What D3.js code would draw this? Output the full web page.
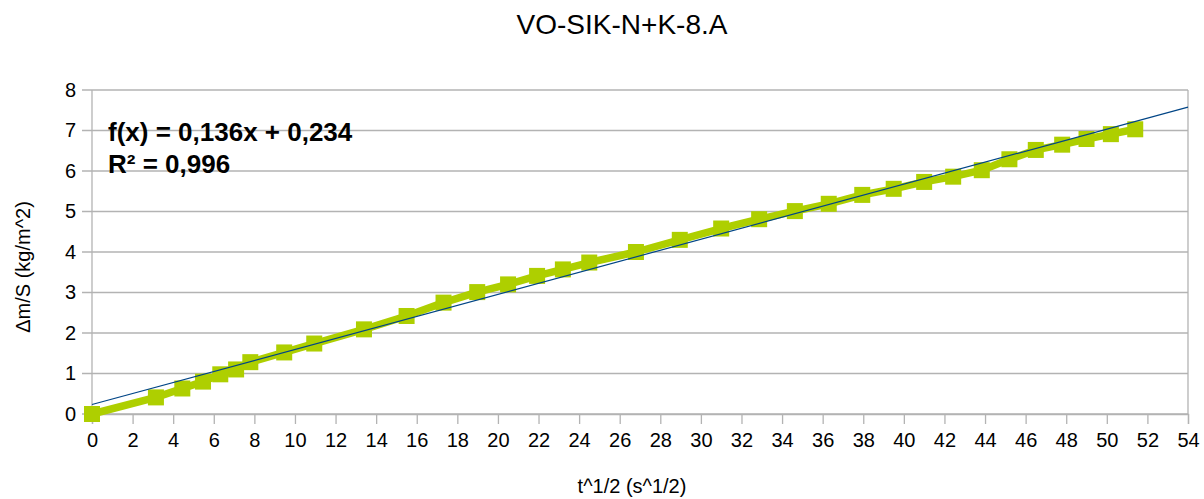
<!DOCTYPE html>
<html>
<head>
<meta charset="utf-8">
<script src="https://cdn.jsdelivr.net/npm/d3@7"></script>
<style>
  html, body { margin: 0; padding: 0; background: #ffffff; }
  svg { display: block; font-family: "Liberation Sans", Arial, sans-serif; }
</style>
</head>
<body>
<svg id="chart" width="1204" height="499"></svg>
<script>
// Measured series: square root of time vs. mass change per area
const sqrtTime = [0, 3.15, 4.45, 5.47, 6.32, 7.1, 7.8, 9.47, 10.95, 13.4, 15.5, 17.32, 18.98, 20.5,
  21.93, 23.2, 24.5, 26.8, 28.96, 31.0, 32.87, 34.63, 36.3, 37.95, 39.5, 41.0, 42.43, 43.84,
  45.2, 46.5, 47.8, 49.0, 50.2, 51.4];
const massPerArea = [0, 0.41, 0.63, 0.8, 0.98, 1.1, 1.28, 1.52, 1.74, 2.09, 2.42, 2.75, 3.01, 3.2,
  3.41, 3.57, 3.74, 4.0, 4.3, 4.58, 4.81, 5.01, 5.19, 5.41, 5.56, 5.73, 5.86, 6.02,
  6.29, 6.52, 6.65, 6.79, 6.91, 7.03];

// Linear trend line coefficients
const slope = 0.136;
const intercept = 0.234;
const rSquared = 0.996;

const xTicks = d3.range(0, 55, 2);
const yTicks = d3.range(0, 9, 1);

const titleText = "VO-SIK-N+K-8.A";
const xLabel = "t^1/2 (s^1/2)";
const yLabel = "\u0394m/S (kg/m^2)";

const fmt = v => String(v).replace(".", ",");

const svg = d3.select("#chart");
const plot = { left: 92, right: 1188, top: 90, bottom: 414 };

const x = d3.scaleLinear().domain([0, 54]).range([plot.left, plot.right]);
const y = d3.scaleLinear().domain([0, 8]).range([plot.bottom, plot.top]);

const gridColor = "#b3b3b3";
const tickFont = 20;

// horizontal gridlines
svg.append("g")
  .selectAll("line")
  .data(yTicks)
  .join("line")
  .attr("x1", plot.left - 10).attr("x2", plot.right)
  .attr("y1", d => y(d)).attr("y2", d => y(d))
  .attr("stroke", gridColor).attr("stroke-width", 1.3);

// plot frame sides
svg.append("line").attr("x1", plot.left).attr("x2", plot.left).attr("y1", plot.top).attr("y2", plot.bottom)
  .attr("stroke", gridColor).attr("stroke-width", 1.3);
svg.append("line").attr("x1", plot.right).attr("x2", plot.right).attr("y1", plot.top).attr("y2", plot.bottom)
  .attr("stroke", gridColor).attr("stroke-width", 1.3);

// x axis
const xAxis = svg.append("g")
  .attr("transform", `translate(0,${plot.bottom})`)
  .call(d3.axisBottom(x).tickValues(xTicks).tickSize(10).tickPadding(9).tickFormat(d => d));
xAxis.select(".domain").attr("stroke", gridColor).attr("stroke-width", 1.3);
xAxis.selectAll(".tick line").attr("stroke", gridColor).attr("stroke-width", 1.3);
xAxis.selectAll(".tick text").attr("font-size", tickFont).attr("fill", "#000")
  .attr("font-family", "Liberation Sans, Arial, sans-serif");

// y axis labels
const yAxis = svg.append("g")
  .attr("transform", `translate(${plot.left},0)`)
  .call(d3.axisLeft(y).tickValues(yTicks).tickSize(0).tickPadding(16).tickFormat(d => d));
yAxis.select(".domain").remove();
yAxis.selectAll(".tick text").attr("font-size", tickFont).attr("fill", "#000")
  .attr("font-family", "Liberation Sans, Arial, sans-serif");

const pts = sqrtTime.map((t, i) => [t, massPerArea[i]]);

// series line
svg.append("path")
  .datum(pts)
  .attr("fill", "none")
  .attr("stroke", "#aecf00")
  .attr("stroke-width", 7.5)
  .attr("stroke-linejoin", "round")
  .attr("d", d3.line().x(d => x(d[0])).y(d => y(d[1])));

// square markers
const m = 16;
svg.append("g")
  .selectAll("rect")
  .data(pts)
  .join("rect")
  .attr("x", d => x(d[0]) - m / 2)
  .attr("y", d => y(d[1]) - m / 2)
  .attr("width", m).attr("height", m)
  .attr("fill", "#aecf00");

// linear trend line
svg.append("line")
  .attr("x1", x(0)).attr("y1", y(intercept))
  .attr("x2", x(54)).attr("y2", y(slope * 54 + intercept))
  .attr("stroke", "#004586").attr("stroke-width", 1.2);

// equation
svg.append("text").attr("x", 108).attr("y", 141)
  .attr("font-size", 26).attr("font-weight", "bold").attr("fill", "#000")
  .text(`f(x) = ${fmt(slope)}x + ${fmt(intercept)}`);
svg.append("text").attr("x", 108).attr("y", 173)
  .attr("font-size", 26).attr("font-weight", "bold").attr("fill", "#000")
  .text(`R\u00b2 = ${fmt(rSquared)}`);

// title
svg.append("text").attr("x", 622).attr("y", 34).attr("text-anchor", "middle")
  .attr("font-size", 28).attr("fill", "#000").text(titleText);

// axis titles
svg.append("text").attr("x", 632).attr("y", 493).attr("text-anchor", "middle")
  .attr("font-size", 20).attr("fill", "#000").text(xLabel);
svg.append("text")
  .attr("transform", "translate(30,267) rotate(-90)")
  .attr("text-anchor", "middle")
  .attr("font-size", 20).attr("fill", "#000").text(yLabel);
</script>
</body>
</html>
